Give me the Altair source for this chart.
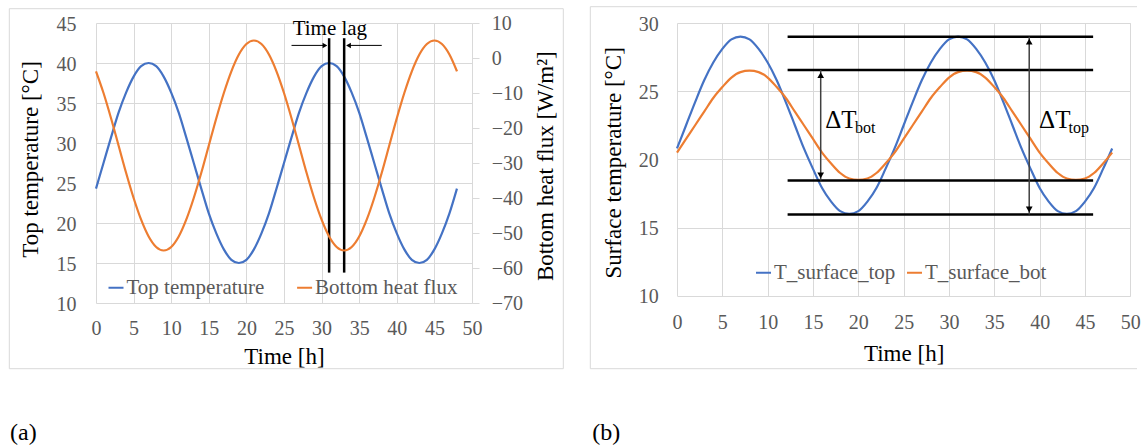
import altair as alt
import pandas as pd

# ---------------- data ----------------
hours = [0, 1, 2, 3, 4, 5, 6, 7, 8, 9, 10, 11, 12, 13, 14, 15, 16, 17, 18, 19, 20, 21, 22, 23,
         24, 25, 26, 27, 28, 29, 30, 31, 32, 33, 34, 35, 36, 37, 38, 39, 40, 41, 42, 43, 44, 45, 46, 47, 48]

# panel (a)
top_temperature = [24.3, 27.5, 30.7, 33.8, 36.3, 38.3, 39.6, 40.0, 39.6, 38.3, 36.3, 33.8,
                   30.7, 27.5, 24.3, 21.2, 18.7, 16.7, 15.4, 15.0, 15.4, 16.7, 18.7, 21.2,
                   24.3, 27.5, 30.7, 33.8, 36.3, 38.3, 39.6, 40.0, 39.6, 38.3, 36.3, 33.8,
                   30.7, 27.5, 24.3, 21.2, 18.7, 16.7, 15.4, 15.0, 15.4, 16.7, 18.7, 21.2, 24.3]
bottom_heat_flux = [-3.8, -10.0, -17.2, -25.0, -32.8, -40.0, -46.2, -51.0, -54.0, -55.0, -54.0, -51.0,
                    -46.2, -40.0, -32.8, -25.0, -17.2, -10.0, -3.8, 1.0, 4.0, 5.0, 4.0, 1.0,
                    -3.8, -10.0, -17.2, -25.0, -32.8, -40.0, -46.2, -51.0, -54.0, -55.0, -54.0, -51.0,
                    -46.2, -40.0, -32.8, -25.0, -17.2, -10.0, -3.8, 1.0, 4.0, 5.0, 4.0, 1.0, -3.8]

# panel (b)
t_surface_top = [20.8, 22.5, 24.2, 25.8, 27.1, 28.1, 28.8, 29.0, 28.8, 28.1, 27.1, 25.8,
                 24.2, 22.5, 20.8, 19.3, 17.9, 16.9, 16.2, 16.0, 16.2, 16.9, 17.9, 19.3,
                 20.8, 22.5, 24.2, 25.8, 27.1, 28.1, 28.8, 29.0, 28.8, 28.1, 27.1, 25.8,
                 24.2, 22.5, 20.8, 19.3, 17.9, 16.9, 16.2, 16.0, 16.2, 16.9, 17.9, 19.3, 20.8]
t_surface_bot = [20.5, 21.5, 22.5, 23.5, 24.5, 25.3, 26.0, 26.4, 26.5, 26.4, 26.0, 25.3,
                 24.5, 23.5, 22.5, 21.5, 20.5, 19.7, 19.0, 18.6, 18.5, 18.6, 19.0, 19.7,
                 20.5, 21.5, 22.5, 23.5, 24.5, 25.3, 26.0, 26.4, 26.5, 26.4, 26.0, 25.3,
                 24.5, 23.5, 22.5, 21.5, 20.5, 19.7, 19.0, 18.6, 18.5, 18.6, 19.0, 19.7, 20.5]

left_series = ["Top temperature", "Bottom heat flux"]
right_series = ["T_surface_top", "T_surface_bot"]

x_ticks = [0, 5, 10, 15, 20, 25, 30, 35, 40, 45, 50]
left_temp_ticks = [10, 15, 20, 25, 30, 35, 40, 45]
left_flux_ticks = [-70, -60, -50, -40, -30, -20, -10, 0, 10]
right_temp_ticks = [10, 15, 20, 25, 30]

# annotations of panel (a) (data coordinates)
lag_lines_x = [31, 33]
lag_line_bottom = 13.8
lag_line_top = 43.1
lag_arrow_from = [26, 38]
lag_arrow_to = [30.6, 33.4]
lag_arrow_y = 42.2
lag_head_x = [30.44, 33.58]
lag_head_shape = ["triangle-right", "triangle-left"]
lag_text = ["Time lag"]
lag_text_x = [31.1]
lag_text_y = [43.54]

# annotations of panel (b)
ref_levels = [29.0, 26.55, 18.45, 15.95]
ref_start = 12.2
ref_end = 45.9
dt_arrow_x = [15.85, 38.85]
dt_arrow_low = [18.45, 15.95]
dt_arrow_high = [26.55, 29.0]
dt_head_x = [15.85, 15.85, 38.85, 38.85]
dt_head_y = [26.18, 18.82, 28.63, 16.32]
dt_head_shape = ["triangle-up", "triangle-down", "triangle-up", "triangle-down"]
dt_main_x = [16.35, 39.94]
dt_main_y = [22.3, 22.3]
dt_sub_x = [19.64, 43.18]
dt_sub_y = [21.95, 21.95]
dt_sub_text = ["bot", "top"]

# ---------------- styling ----------------
FONT = "Liberation Serif"
GRID = "#D9D9D9"
LAB = "#595959"
BLUE = "#4472C4"
ORANGE = "#ED7D31"
FRAME = "#D9D9D9"

LW, LH = 376, 280          # plot area of panel (a)
RW, RH = 453.3, 272.7      # plot area of panel (b)

one_row = alt.Data(values=[{"k": 0}])


def legend(x, y, pad):
    return alt.Legend(title=None, orient="none", legendX=x, legendY=y, direction="horizontal",
                      symbolType="stroke", symbolSize=225, symbolStrokeWidth=2,
                      labelFontSize=21, labelFont=FONT, labelColor=LAB,
                      columnPadding=pad, labelOffset=0, padding=0, labelLimit=400)


def x_axis(title_x, title_y, pad):
    return alt.Axis(values=x_ticks, title="Time [h]", grid=True, ticks=False, tickSize=0,
                    labelFlush=False, labelFont=FONT, titleFont=FONT,
                    labelPadding=pad, labelBaseline="alphabetic",
                    titleX=title_x, titleY=title_y, titleBaseline="alphabetic", titleAlign="center")


# ---------------- panel (a) ----------------
left_df = pd.DataFrame({
    "t": hours + hours,
    "v": top_temperature + bottom_heat_flux,
    "series": [left_series[0]] * len(hours) + [left_series[1]] * len(hours),
})

xs_left = alt.Scale(domain=[0, 50], nice=False, zero=False)
ys_temp = alt.Scale(domain=[10, 45], nice=False, zero=False)
ys_flux = alt.Scale(domain=[-70, 10], nice=False, zero=False)

ax_x_left = x_axis(LW / 2, 60, 31.7)
ax_temp = alt.Axis(values=left_temp_ticks, title="Top temperature [°C]", grid=True, ticks=False, tickSize=0,
                   labelPadding=20, labelOffset=1.5, labelFlush=False, labelFont=FONT, titleFont=FONT,
                   titleX=-65.7, titleY=136, titleAngle=270, titleBaseline="middle", titleAlign="center")
ax_flux = alt.Axis(orient="right", values=left_flux_ticks, title="Bottom heat flux [W/m²]", grid=False,
                   ticks=True, tickSize=7, tickColor=GRID, labelPadding=12.3, labelAlign="left",
                   labelFlush=False, labelFont=FONT, titleFont=FONT,
                   titleX=73.9, titleY=142.7, titleAngle=270, titleBaseline="middle", titleAlign="center")

color_left = alt.Color("series:N", scale=alt.Scale(domain=left_series, range=[BLUE, ORANGE]),
                       legend=legend(9.5, 254, 28.6))


def xl(field):
    return alt.X(field, scale=xs_left, axis=ax_x_left)


def yt(field):
    return alt.Y(field, scale=ys_temp, axis=ax_temp)


temp_line = alt.Chart(left_df).transform_filter(
    alt.datum.series == left_series[0]
).mark_line(strokeWidth=2.2, interpolate="monotone").encode(
    x=xl("t:Q"), y=yt("v:Q"), color=color_left,
)

flux_line = alt.Chart(left_df).transform_filter(
    alt.datum.series == left_series[1]
).mark_line(strokeWidth=2.2, interpolate="monotone").encode(
    x=xl("t:Q"),
    y=alt.Y("v:Q", scale=ys_flux, axis=ax_flux),
    color=color_left,
)

lag_lines = alt.Chart(pd.DataFrame({
    "t": lag_lines_x, "v": [lag_line_bottom] * 2, "v2": [lag_line_top] * 2,
})).mark_rule(color="black", strokeWidth=2.5).encode(
    x=xl("t:Q"), y=yt("v:Q"), y2="v2:Q",
)

lag_shafts = alt.Chart(pd.DataFrame({
    "t": lag_arrow_from, "t2": lag_arrow_to, "v": [lag_arrow_y] * 2,
})).mark_rule(color="black", strokeWidth=1).encode(
    x=xl("t:Q"), x2="t2:Q", y=yt("v:Q"),
)

lag_heads = alt.Chart(pd.DataFrame({
    "t": lag_head_x, "v": [lag_arrow_y] * 2, "shape": lag_head_shape,
})).mark_point(filled=True, size=30, color="black", opacity=1).encode(
    x=xl("t:Q"), y=yt("v:Q"), shape=alt.Shape("shape:N", scale=None),
)

lag_label = alt.Chart(pd.DataFrame({
    "t": lag_text_x, "v": lag_text_y, "label": lag_text,
})).mark_text(font=FONT, fontSize=21, color="black", align="center", baseline="alphabetic").encode(
    x=xl("t:Q"), y=yt("v:Q"), text="label:N",
)

frame_left = alt.Chart(one_row).mark_rect(fillOpacity=0, stroke=FRAME, strokeWidth=1).encode(
    x=alt.value(-86.7), x2=alt.value(LW + 91.3), y=alt.value(-14.3), y2=alt.value(345.7))

tag_a = alt.Chart(one_row).mark_text(font=FONT, fontSize=24, color="black", align="left",
                                     baseline="middle").encode(
    x=alt.value(-86), y=alt.value(409.5), text=alt.value("(a)"))

left_inner = alt.layer(temp_line, lag_lines, lag_shafts, lag_heads, lag_label, frame_left, tag_a)
left = alt.layer(left_inner, flux_line).resolve_scale(y="independent").properties(width=LW, height=LH)

# ---------------- panel (b) ----------------
right_df = pd.DataFrame({
    "t": hours + hours,
    "v": t_surface_top + t_surface_bot,
    "series": [right_series[0]] * len(hours) + [right_series[1]] * len(hours),
})

xs_right = alt.Scale(domain=[0, 50], nice=False, zero=False)
ys_right = alt.Scale(domain=[10, 30], nice=False, zero=False)
ax_x_right = x_axis(RW / 2, 64.7, 32.3)
ax_right = alt.Axis(values=right_temp_ticks, title="Surface temperature [°C]", grid=True, ticks=False, tickSize=0,
                    labelPadding=18.7, labelOffset=1, labelFlush=False, labelFont=FONT, titleFont=FONT,
                    titleX=-63.4, titleY=139.4, titleAngle=270, titleBaseline="middle", titleAlign="center")


def xr(field):
    return alt.X(field, scale=xs_right, axis=ax_x_right)


def yr(field):
    return alt.Y(field, scale=ys_right, axis=ax_right)


surf_lines = alt.Chart(right_df).mark_line(strokeWidth=2.2, interpolate="monotone").encode(
    x=xr("t:Q"), y=yr("v:Q"),
    color=alt.Color("series:N", scale=alt.Scale(domain=right_series, range=[BLUE, ORANGE]),
                    legend=legend(76, 239, 7)),
)

ref_lines = alt.Chart(pd.DataFrame({
    "v": ref_levels, "t": [ref_start] * 4, "t2": [ref_end] * 4,
})).mark_rule(color="black", strokeWidth=2.5).encode(
    x=xr("t:Q"), x2="t2:Q", y=yr("v:Q"),
)

dt_shafts = alt.Chart(pd.DataFrame({
    "t": dt_arrow_x, "v": dt_arrow_low, "v2": dt_arrow_high,
})).mark_rule(color="#404040", strokeWidth=1.5).encode(
    x=xr("t:Q"), y=yr("v:Q"), y2="v2:Q",
)

dt_heads = alt.Chart(pd.DataFrame({
    "t": dt_head_x, "v": dt_head_y, "shape": dt_head_shape,
})).mark_point(filled=True, size=45, color="black", opacity=1).encode(
    x=xr("t:Q"), y=yr("v:Q"), shape=alt.Shape("shape:N", scale=None),
)

dt_main = alt.Chart(pd.DataFrame({
    "t": dt_main_x, "v": dt_main_y, "label": ["ΔT", "ΔT"],
})).mark_text(font=FONT, fontSize=25, color="black", align="left", baseline="alphabetic").encode(
    x=xr("t:Q"), y=yr("v:Q"), text="label:N",
)

dt_sub = alt.Chart(pd.DataFrame({
    "t": dt_sub_x, "v": dt_sub_y, "label": dt_sub_text,
})).mark_text(font=FONT, fontSize=16, color="black", align="left", baseline="alphabetic").encode(
    x=xr("t:Q"), y=yr("v:Q"), text="label:N",
)

frame_right_v = alt.Chart(one_row).mark_rule(color=FRAME, strokeWidth=1).encode(
    x=alt.value(-86.7), y=alt.value(-16.3), y2=alt.value(345.7))
frame_right_top = alt.Chart(one_row).mark_rule(color=FRAME, strokeWidth=1).encode(
    x=alt.value(-86.7), x2=alt.value(460), y=alt.value(-16.3))
frame_right_bot = alt.Chart(one_row).mark_rule(color=FRAME, strokeWidth=1).encode(
    x=alt.value(-86.7), x2=alt.value(460), y=alt.value(345.7))

tag_b = alt.Chart(one_row).mark_text(font=FONT, fontSize=24, color="black", align="left",
                                     baseline="middle").encode(
    x=alt.value(-84.7), y=alt.value(409.5), text=alt.value("(b)"))

right = alt.layer(surf_lines, ref_lines, dt_shafts, dt_heads, dt_main, dt_sub,
                  frame_right_v, frame_right_top, frame_right_bot, tag_b).properties(width=RW, height=RH)

# ---------------- assemble ----------------
chart = alt.hconcat(left, right, spacing=205, bounds="flush").resolve_scale(
    color="independent", x="independent", y="independent"
).properties(
    padding={"left": 8, "top": 6, "right": 0, "bottom": 0},
    autosize=alt.AutoSizeParams(type="pad"),
    background="white",
).configure(font=FONT).configure_axis(
    labelFont=FONT, titleFont=FONT, labelFontSize=20, titleFontSize=23,
    labelColor=LAB, titleColor="black", titleFontWeight="normal",
    gridColor=GRID, gridWidth=1, domain=False,
).configure_legend(labelFont=FONT).configure_view(stroke=None)

chart.save("out.html", embed_options={"renderer": "svg", "actions": False})
